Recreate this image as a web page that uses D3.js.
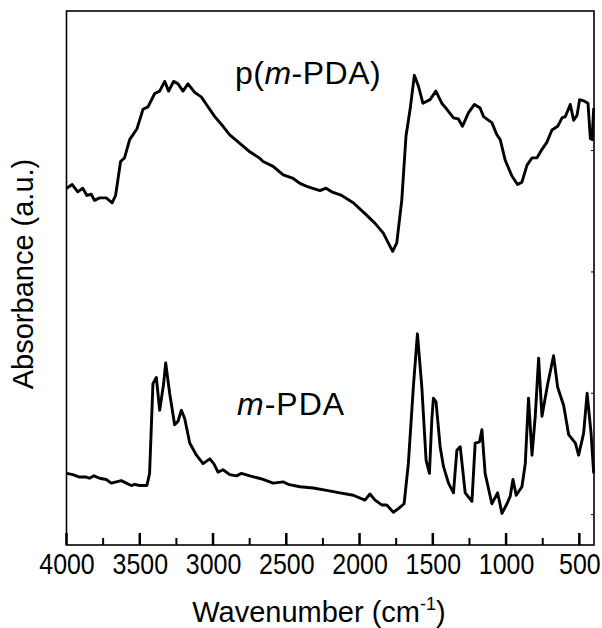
<!DOCTYPE html>
<html>
<head>
<meta charset="utf-8">
<script src="https://cdn.jsdelivr.net/npm/d3@7"></script>
<style>
  body { margin: 0; background: #fff; }
  text { font-family: "Liberation Sans", Arial, sans-serif; fill: #000; }
  .xtick text { transform-box: fill-box; transform-origin: center; transform: scaleX(0.86); }
</style>
</head>
<body>
<svg id="chart" width="602" height="628"></svg>
<script>
// p(m-PDA) spectrum
const polyWavenumber = [4000, 3961, 3923, 3889, 3861, 3831, 3809, 3774, 3729, 3688, 3665, 3631, 3604, 3569, 3519, 3478, 3444, 3398, 3364, 3330, 3303, 3269, 3239, 3205, 3171, 3125, 3079, 3045, 2988, 2932, 2886, 2817, 2749, 2685, 2658, 2590, 2521, 2453, 2407, 2350, 2270, 2229, 2190, 2122, 2043, 1963, 1894, 1838, 1804, 1774, 1746, 1712, 1683, 1655, 1626, 1598, 1568, 1519, 1479, 1439, 1404, 1359, 1325, 1298, 1257, 1216, 1177, 1154, 1097, 1063, 1040, 1006, 960, 922, 892, 857, 823, 789, 755, 721, 687, 648, 618, 596, 562, 539, 516, 498, 471, 441, 425, 413, 402];
const polyAbs = [2.69, 2.72, 2.66, 2.69, 2.63, 2.64, 2.59, 2.61, 2.61, 2.57, 2.63, 2.91, 2.94, 3.09, 3.18, 3.34, 3.36, 3.47, 3.49, 3.57, 3.49, 3.57, 3.55, 3.49, 3.55, 3.48, 3.44, 3.38, 3.28, 3.20, 3.13, 3.06, 2.99, 2.94, 2.91, 2.87, 2.80, 2.77, 2.73, 2.70, 2.67, 2.69, 2.66, 2.63, 2.57, 2.48, 2.40, 2.32, 2.24, 2.17, 2.24, 2.59, 3.12, 3.34, 3.62, 3.53, 3.39, 3.42, 3.49, 3.39, 3.34, 3.27, 3.26, 3.20, 3.31, 3.38, 3.35, 3.28, 3.23, 3.13, 3.09, 2.92, 2.79, 2.72, 2.74, 2.88, 2.94, 2.94, 3.01, 3.07, 3.17, 3.20, 3.27, 3.28, 3.38, 3.25, 3.29, 3.42, 3.41, 3.39, 3.10, 3.09, 3.35];

// m-PDA monomer spectrum
const monoWavenumber = [3998, 3957, 3911, 3865, 3843, 3813, 3774, 3729, 3694, 3660, 3626, 3592, 3558, 3535, 3501, 3451, 3433, 3410, 3387, 3364, 3337, 3323, 3296, 3262, 3239, 3216, 3193, 3159, 3113, 3068, 3022, 2995, 2966, 2932, 2886, 2840, 2806, 2749, 2685, 2658, 2590, 2521, 2487, 2407, 2316, 2225, 2134, 2043, 1963, 1929, 1894, 1849, 1815, 1769, 1735, 1696, 1667, 1633, 1605, 1575, 1546, 1523, 1507, 1496, 1478, 1450, 1428, 1393, 1359, 1336, 1313, 1279, 1233, 1211, 1181, 1165, 1143, 1097, 1058, 1028, 994, 972, 953, 931, 892, 869, 847, 823, 801, 778, 755, 717, 676, 648, 607, 573, 527, 505, 471, 447, 420, 402];
const monoAbs = [0.34, 0.33, 0.31, 0.31, 0.30, 0.32, 0.30, 0.29, 0.26, 0.27, 0.28, 0.26, 0.24, 0.25, 0.24, 0.24, 0.34, 1.08, 1.13, 0.86, 1.08, 1.25, 1.00, 0.74, 0.77, 0.86, 0.79, 0.59, 0.49, 0.42, 0.46, 0.42, 0.35, 0.37, 0.33, 0.32, 0.34, 0.32, 0.30, 0.29, 0.26, 0.27, 0.25, 0.23, 0.22, 0.20, 0.18, 0.16, 0.12, 0.17, 0.12, 0.08, 0.08, 0.02, 0.05, 0.09, 0.42, 1.05, 1.49, 1.05, 0.45, 0.34, 0.78, 0.96, 0.93, 0.56, 0.40, 0.26, 0.18, 0.53, 0.56, 0.18, 0.11, 0.59, 0.60, 0.70, 0.34, 0.09, 0.18, 0.01, 0.09, 0.15, 0.29, 0.16, 0.23, 0.42, 0.96, 0.49, 0.81, 1.29, 0.81, 1.07, 1.31, 1.05, 0.90, 0.66, 0.59, 0.49, 0.67, 1.00, 0.67, 0.34];

const majorTicks = [4000, 3500, 3000, 2500, 2000, 1500, 1000, 500];
const minorTicks = [3750, 3250, 2750, 2250, 1750, 1250, 750];
const rightTicks = [0, 1, 2, 3];

const svg = d3.select("#chart");
const plotLeft = 66.5, plotRight = 594, plotTop = 11, plotBottom = 545;

const x = d3.scaleLinear().domain([4000, 400]).range([plotLeft, plotRight]);
const y = d3.scaleLinear().domain([-0.25, 4.15]).range([plotBottom, plotTop]);

// frame
svg.append("rect")
  .attr("x", plotLeft).attr("y", plotTop)
  .attr("width", plotRight - plotLeft).attr("height", plotBottom - plotTop)
  .attr("fill", "none").attr("stroke", "#000").attr("stroke-width", 1.6);

// bottom axis labels
const xAxis = svg.append("g")
  .attr("class", "xtick")
  .attr("transform", `translate(0,${plotBottom})`)
  .call(d3.axisBottom(x).tickValues(majorTicks).tickFormat(d3.format("d"))
    .tickSize(0).tickPadding(8));
xAxis.select(".domain").remove();
xAxis.selectAll("text").style("font-size", "29px");
xAxis.attr("font-family", null);

const line = d3.line()
  .x((d) => x(d[0]))
  .y((d) => y(d[1]));

svg.append("path")
  .datum(d3.zip(polyWavenumber, polyAbs))
  .attr("d", line)
  .attr("fill", "none")
  .attr("stroke", "#000")
  .attr("stroke-width", 2.9)
  .attr("stroke-linejoin", "round");

svg.append("path")
  .datum(d3.zip(monoWavenumber, monoAbs))
  .attr("d", line)
  .attr("fill", "none")
  .attr("stroke", "#000")
  .attr("stroke-width", 2.9)
  .attr("stroke-linejoin", "round");

// inward ticks on the bottom edge
const majorPath = majorTicks.map((d) => `M${x(d)},${plotBottom}V${plotBottom - 12}`).join("");
svg.append("path").attr("d", majorPath).attr("stroke", "#000").attr("stroke-width", 2.5).attr("fill", "none");

const minorPath = minorTicks.map((d) => `M${x(d)},${plotBottom}V${plotBottom - 7}`).join("");
svg.append("path").attr("d", minorPath).attr("stroke", "#000").attr("stroke-width", 2).attr("fill", "none");

// tiny inward ticks on the right edge
const rightPath = rightTicks.map((d) => `M${plotRight},${y(d)}H${plotRight - 3}`).join("");
svg.append("path").attr("d", rightPath).attr("stroke", "#000").attr("stroke-width", 1).attr("fill", "none");

// series labels
const lab1 = svg.append("text").attr("x", 235).attr("y", 84)
  .style("font-size", "32px").style("letter-spacing", "0.5px");
lab1.append("tspan").text("p(");
lab1.append("tspan").style("font-style", "italic").text("m");
lab1.append("tspan").text("-PDA)");

const lab2 = svg.append("text").attr("x", 237).attr("y", 415)
  .style("font-size", "32px").style("letter-spacing", "1px");
lab2.append("tspan").style("font-style", "italic").text("m");
lab2.append("tspan").text("-PDA");

// axis titles
const xt = svg.append("text")
  .attr("x", 319).attr("y", 622)
  .attr("text-anchor", "middle")
  .style("font-size", "29px");
xt.append("tspan").text("Wavenumber (cm");
xt.append("tspan").attr("dy", -12).style("font-size", "18px").text("-1");
xt.append("tspan").attr("dy", 12).text(")");

svg.append("text")
  .attr("transform", "translate(33,274) rotate(-90)")
  .attr("text-anchor", "middle")
  .style("font-size", "29px")
  .text("Absorbance (a.u.)");
</script>
</body>
</html>
